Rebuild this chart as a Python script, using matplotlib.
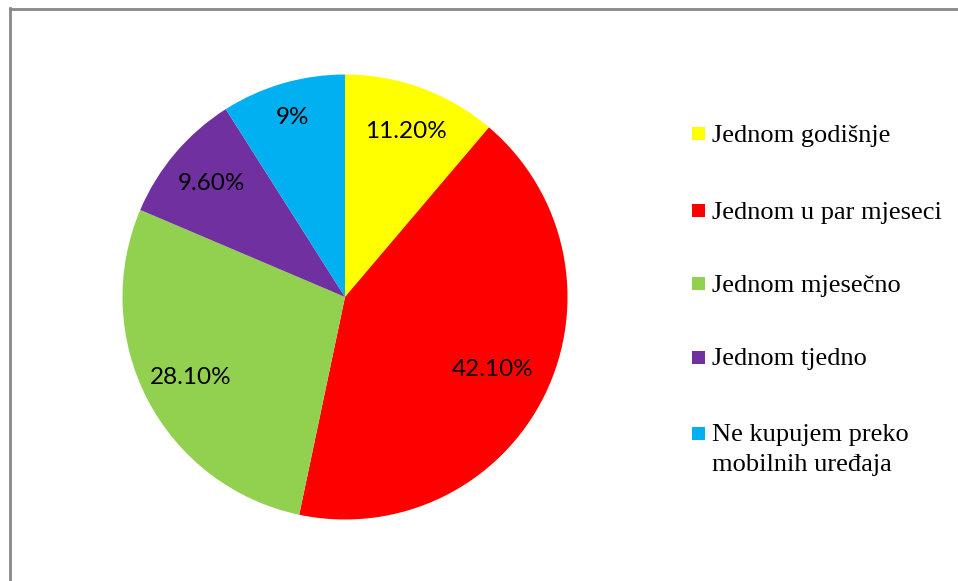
import matplotlib
matplotlib.use("Agg")
import matplotlib.pyplot as plt
from matplotlib.patches import Rectangle
from matplotlib.lines import Line2D
import numpy as np

categories = ["Jednom godišnje", "Jednom u par mjeseci", "Jednom mjesečno",
              "Jednom tjedno", "Ne kupujem preko\nmobilnih uređaja"]
values = [11.2, 42.1, 28.1, 9.6, 9.0]
pct_labels = ["11.20%", "42.10%", "28.10%", "9.60%", "9%"]
colors = ["#FFFF00", "#FF0000", "#92D050", "#7030A0", "#00B0F0"]

W, H = 958, 581
fig = plt.figure(figsize=(W / 100, H / 100), dpi=100)

cx, cy, r = 345, 297, 222.5
ax = fig.add_axes([(cx - r) / W, (H - cy - r) / H, 2 * r / W, 2 * r / H])
wedges, _ = ax.pie(values, colors=colors, startangle=90, counterclock=False,
                   wedgeprops=dict(linewidth=0))
ax.set_xlim(-1, 1)
ax.set_ylim(-1, 1)
ax.set_aspect("equal")

label_dist = [0.79, 0.74, 0.78, 0.79, 0.84]
for w, lab, d in zip(wedges, pct_labels, label_dist):
    ang = np.deg2rad((w.theta1 + w.theta2) / 2)
    ax.text(d * np.cos(ang), d * np.sin(ang), lab, ha="center", va="center",
            fontsize=17.5, family="Lato", color="black")

# legend drawn manually
leg_y = [133.5, 210, 283.5, 357, 433]
line_gap = 30
for lab, col, y in zip(categories, colors, leg_y):
    fig.patches.append(Rectangle(((692) / W, (H - y - 6.5) / H), 13 / W, 13 / H,
                                 transform=fig.transFigure, facecolor=col,
                                 edgecolor="none"))
    for k, part in enumerate(lab.split("\n")):
        fig.text(712 / W, (H - y - k * line_gap) / H, part, ha="left",
                 va="center_baseline", fontsize=19,
                 family="Liberation Serif", color="black")

# border lines (top and left)
fig.add_artist(Line2D([9.5 / W, 1], [(H - 9) / H, (H - 9) / H],
                      transform=fig.transFigure, color="#878787", linewidth=2))
fig.add_artist(Line2D([10 / W, 10 / W], [0, (H - 8) / H],
                      transform=fig.transFigure, color="#878787", linewidth=2))

fig.savefig("out.png", dpi=100, facecolor="white")
